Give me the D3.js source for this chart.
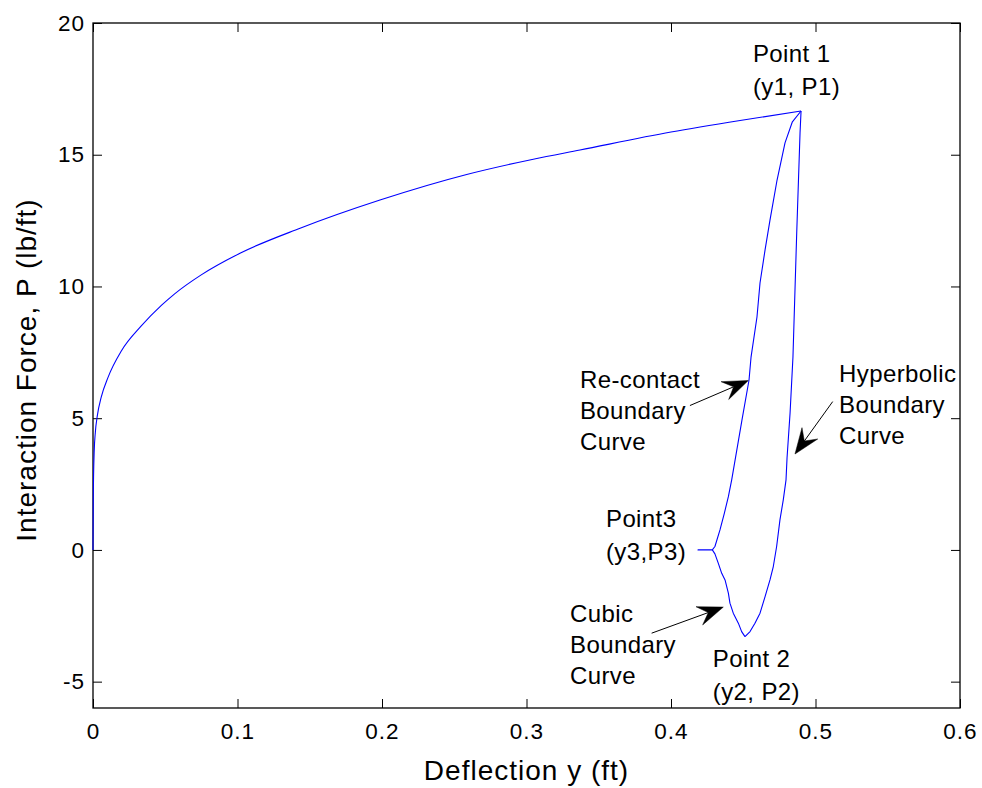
<!DOCTYPE html>
<html>
<head>
<meta charset="utf-8">
<script src="https://cdn.jsdelivr.net/npm/d3@7/dist/d3.min.js"></script>
<style>
  html, body { margin: 0; padding: 0; background: #fff; }
  svg { display: block; }
  text { font-family: "Liberation Sans", Arial, Helvetica, sans-serif; fill: #000; }
</style>
</head>
<body>
<svg id="chart" width="982" height="788"></svg>
<script>
// ---------------- data ----------------
const xTicks = [0, 0.1, 0.2, 0.3, 0.4, 0.5, 0.6];
const xTickLabels = ["0", "0.1", "0.2", "0.3", "0.4", "0.5", "0.6"];
const yTicks = [-5, 0, 5, 10, 15, 20];
const yTickLabels = ["-5", "0", "5", "10", "15", "20"];

// loading curve: origin to Point 1
const loadX = [0, 0.0002, 0.0008, 0.0016, 0.0030, 0.0057, 0.0104, 0.0196, 0.0334, 0.0473, 0.0565, 0.0749, 0.1017, 0.1433, 0.1986, 0.2586, 0.3047, 0.3370, 0.4000, 0.4478, 0.4900];
const loadP = [0, 2.0, 3.7, 4.45, 5.10, 5.80, 6.55, 7.55, 8.50, 9.28, 9.72, 10.44, 11.26, 12.21, 13.28, 14.25, 14.83, 15.18, 15.86, 16.30, 16.66];

// hyperbolic boundary curve: Point 1 to Point 2
const hypX = [0.4900, 0.4893, 0.4870, 0.4844, 0.4824, 0.4803, 0.4796, 0.4777, 0.4754, 0.4731, 0.4708, 0.4685, 0.4651, 0.4616, 0.4581, 0.4547, 0.4512];
const hypP = [16.66, 15.83, 12.03, 7.32, 5.20, 3.49, 2.66, 1.90, 1.14, 0.13, -0.63, -1.14, -1.77, -2.40, -2.78, -3.10, -3.29];

// cubic boundary curve: Point 2 to Point 3
const cubX = [0.4512, 0.4489, 0.4466, 0.4431, 0.4408, 0.4397, 0.4374, 0.4351, 0.4327, 0.4304, 0.4286];
const cubP = [-3.29, -3.10, -2.78, -2.40, -2.02, -1.64, -1.14, -0.89, -0.50, -0.15, 0];

// gap segment at P = 0 (Point 3)
const gapX = [0.4286, 0.4187, 0.4286];
const gapP = [0, 0, 0];

// re-contact boundary curve: Point 3 to Point 1
const recX = [0.4286, 0.4304, 0.4339, 0.4369, 0.4397, 0.4420, 0.4491, 0.4540, 0.4554, 0.4595, 0.4616, 0.4651, 0.4685, 0.4734, 0.4789, 0.4840, 0.4900];
const recP = [0, 0.13, 0.76, 1.39, 2.02, 2.66, 4.93, 6.45, 7.32, 8.84, 10.13, 11.39, 12.52, 14.04, 15.45, 16.25, 16.66];

// annotations (data coordinates of first baseline)
const annoLines = [["Point 1", "(y1, P1)"], ["Re-contact", "Boundary", "Curve"], ["Hyperbolic", "Boundary", "Curve"], ["Point3", "(y3,P3)"], ["Cubic", "Boundary", "Curve"], ["Point 2", "(y2, P2)"]];
const annoX = [0.4567, 0.3370, 0.5163, 0.3550, 0.3301, 0.4289];
const annoP = [18.52, 6.15, 6.38, 0.87, -2.73, -4.44];
const annoGap = [1.375, 1.29, 1.29, 1.375, 1.29, 1.375];

// arrows: start -> tip (data coordinates)
const arrowX0 = [0.4131, 0.5119, 0.3866];
const arrowP0 = [5.48, 5.63, -3.16];
const arrowX1 = [0.4535, 0.4858, 0.4362];
const arrowP1 = [6.43, 3.64, -2.17];

// ---------------- layout ----------------
const svg = d3.select("#chart");
const W = 982, H = 788;
const m = { left: 93, top: 23, right: 22, bottom: 80 };
const pw = W - m.left - m.right;   // 867
const ph = H - m.top - m.bottom;   // 685

svg.append("rect").attr("width", W).attr("height", H).attr("fill", "#fff");

const x = d3.scaleLinear().domain([0, 0.6]).range([m.left, m.left + pw]);
const y = d3.scaleLinear().domain([-6, 20]).range([m.top + ph, m.top]);

const g = svg.append("g");

// axes
const tickLen = 9;
const axB = d3.axisBottom(x).tickValues(xTicks).tickFormat((d, i) => xTickLabels[i])
  .tickSizeInner(-tickLen).tickSizeOuter(0).tickPadding(15);
const axT = d3.axisTop(x).tickValues(xTicks).tickFormat("")
  .tickSizeInner(-tickLen).tickSizeOuter(0);
const axL = d3.axisLeft(y).tickValues(yTicks).tickFormat((d, i) => yTickLabels[i])
  .tickSizeInner(-tickLen).tickSizeOuter(0).tickPadding(8);
const axR = d3.axisRight(y).tickValues(yTicks).tickFormat("")
  .tickSizeInner(-tickLen).tickSizeOuter(0);

function styleAxis(sel) {
  sel.select(".domain").remove();
  sel.selectAll(".tick line").attr("stroke", "#000").attr("stroke-width", 1);
  sel.selectAll(".tick text").attr("font-size", 22.5).attr("letter-spacing", "1px")
    .style("font-family", '"Liberation Sans", Arial, sans-serif').attr("fill", "#000");
}
g.append("g").attr("transform", `translate(0,${m.top + ph})`).call(axB).call(styleAxis);
g.append("g").attr("transform", `translate(0,${m.top})`).call(axT).call(styleAxis);
g.append("g").attr("transform", `translate(${m.left},0)`).call(axL).call(styleAxis);
g.append("g").attr("transform", `translate(${m.left + pw},0)`).call(axR).call(styleAxis);

// frame
g.append("rect").attr("x", m.left).attr("y", m.top).attr("width", pw).attr("height", ph)
  .attr("fill", "none").attr("stroke", "#000").attr("stroke-width", 1.3);

// curves
const line = d3.line().x(d => x(d[0])).y(d => y(d[1]));
const zipXY = (a, b) => a.map((v, i) => [v, b[i]]);
const curves = [
  { d: zipXY(loadX, loadP), c: d3.curveMonotoneX },
  { d: zipXY(hypX, hypP), c: d3.curveLinear },
  { d: zipXY(cubX, cubP), c: d3.curveLinear },
  { d: zipXY(gapX, gapP), c: d3.curveLinear },
  { d: zipXY(recX, recP), c: d3.curveLinear }
];
const cg = g.append("g");
curves.forEach(cv => {
  cg.append("path").datum(cv.d)
    .attr("d", line.curve(cv.c))
    .attr("fill", "none").attr("stroke", "#0000ff").attr("stroke-width", 1.1)
    .attr("stroke-linejoin", "round");
});

// annotations
annoLines.forEach((lines, i) => {
  const t = g.append("text").attr("x", x(annoX[i])).attr("y", y(annoP[i]))
    .attr("font-size", 24).attr("letter-spacing", "0.4px");
  lines.forEach((ln, j) => {
    t.append("tspan").attr("x", x(annoX[i])).attr("dy", j === 0 ? 0 : annoGap[i] + "em").text(ln);
  });
});

// arrows
const headLen = 25.5, headHalf = 9.7, notch = 16;
arrowX0.forEach((_, i) => {
  const sx = x(arrowX0[i]), sy = y(arrowP0[i]);
  const tx = x(arrowX1[i]), ty = y(arrowP1[i]);
  const dx = tx - sx, dy = ty - sy, L = Math.hypot(dx, dy);
  const ux = dx / L, uy = dy / L, nx = -uy, ny = ux;
  const bx = tx - ux * headLen, by = ty - uy * headLen;
  const kx = tx - ux * notch, ky = ty - uy * notch;
  g.append("line").attr("x1", sx).attr("y1", sy).attr("x2", kx).attr("y2", ky)
    .attr("stroke", "#000").attr("stroke-width", 1);
  g.append("path")
    .attr("d", `M${tx},${ty}L${bx + nx * headHalf},${by + ny * headHalf}L${kx},${ky}L${bx - nx * headHalf},${by - ny * headHalf}Z`)
    .attr("fill", "#000").attr("stroke", "#000").attr("stroke-width", 0.5);
});

// axis titles
g.append("text").attr("x", m.left + pw / 2).attr("y", 780)
  .attr("text-anchor", "middle").attr("font-size", 28).attr("letter-spacing", "1px")
  .text("Deflection y (ft)");
g.append("text").attr("transform", `translate(36,370) rotate(-90)`)
  .attr("text-anchor", "middle").attr("font-size", 28).attr("letter-spacing", "1px")
  .text("Interaction Force, P (lb/ft)");
</script>
</body>
</html>
